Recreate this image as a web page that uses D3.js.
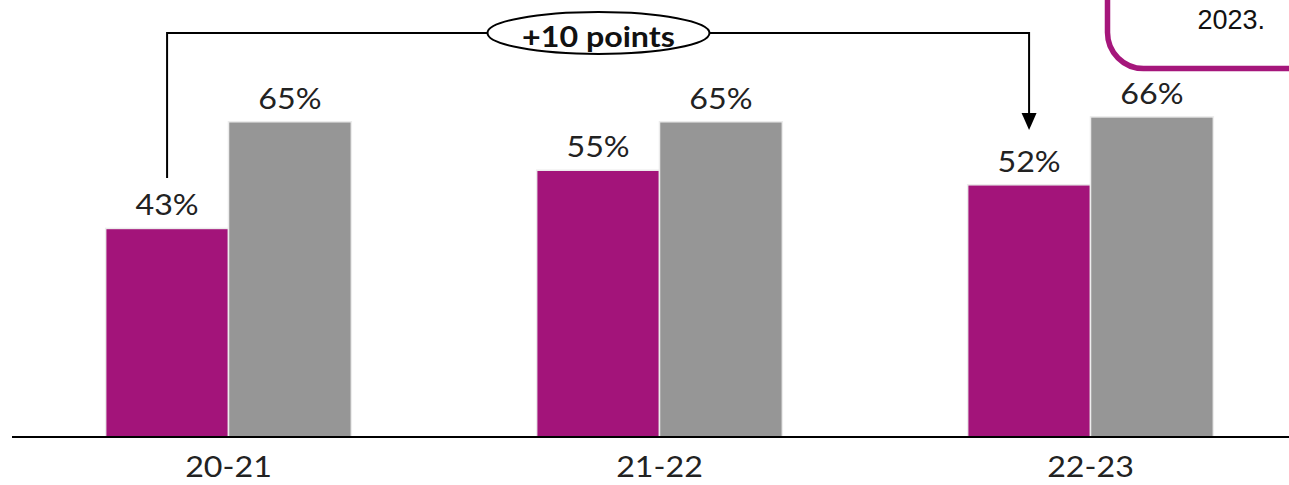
<!DOCTYPE html>
<html>
<head>
<meta charset="utf-8">
<script src="https://cdn.jsdelivr.net/npm/d3@7"></script>
<style>
  html, body { margin: 0; padding: 0; background: #fff; }
  svg { display: block; }
</style>
</head>
<body>
<svg id="chart" width="1289" height="485"></svg>
<script>
// School years and the two series shown side by side
const categories = ["20-21", "21-22", "22-23"];
const seriesA = [43, 55, 52];   // magenta bars
const seriesB = [65, 65, 66];   // grey bars
const seriesNames = ["A", "B"];
const changeLabel = "+10 points";
const noteText = "2023.";

const W = 1289, H = 485;
const baseY = 437;
const colors = { A: "#A3147A", B: "#969696" };
const labelFont = "Lato, 'Open Sans', sans-serif";
const stretch = "scale(1.15,1)";

const svg = d3.select("#chart");

const x = d3.scaleBand()
  .domain(categories)
  .range([13, 1306])
  .paddingInner(0.43)
  .paddingOuter(0.215);

const xs = d3.scaleBand()
  .domain(seriesNames)
  .range([0, x.bandwidth()]);

const y = d3.scaleLinear()
  .domain([0, 100])
  .range([baseY, baseY - 485]);

const rows = categories.map((c, i) => ({ cat: c, A: seriesA[i], B: seriesB[i] }));

// Bars
const groups = svg.append("g").selectAll("g")
  .data(rows)
  .join("g")
  .attr("transform", d => `translate(${x(d.cat)},0)`);

groups.selectAll("rect")
  .data(d => seriesNames.map(k => ({ key: k, value: d[k] })))
  .join("rect")
  .attr("x", d => xs(d.key))
  .attr("y", d => y(d.value))
  .attr("width", xs.bandwidth())
  .attr("height", d => baseY - y(d.value))
  .attr("fill", d => colors[d.key])
  .attr("stroke", "#ececec")
  .attr("stroke-width", 1.5);

// Value labels
groups.selectAll("text")
  .data(d => seriesNames.map(k => ({ key: k, value: d[k] })))
  .join("text")
  .attr("transform", d => `translate(${xs(d.key) + xs.bandwidth() / 2},${y(d.value) - 13}) ${stretch}`)
  .attr("text-anchor", "middle")
  .attr("font-family", labelFont)
  .attr("font-size", 28)
  .attr("fill", "#222")
  .text(d => d.value + "%");

// X axis
const xAxis = svg.append("g")
  .attr("transform", `translate(0,${baseY})`)
  .call(d3.axisBottom(x).tickSize(0));
xAxis.select(".domain").remove();
xAxis.append("line")
  .attr("x1", 12).attr("x2", W)
  .attr("stroke", "#000").attr("stroke-width", 2);
xAxis.selectAll(".tick text")
  .attr("y", 0)
  .attr("dy", null)
  .attr("transform", `translate(0,40) ${stretch}`)
  .attr("font-family", labelFont)
  .attr("font-size", 28)
  .attr("fill", "#222");

// Bracket connecting first and last magenta bar, with change label
const xStart = x(categories[0]) + xs("A") + xs.bandwidth() / 2;
const xEnd = x(categories[2]) + xs("A") + xs.bandwidth() / 2;
const bracketY = 33;
const startY = 178;
const tipY = 130;

svg.append("path")
  .attr("d", `M${xStart},${startY} V${bracketY} H${xEnd} V${tipY - 14}`)
  .attr("fill", "none")
  .attr("stroke", "#000")
  .attr("stroke-width", 2);

svg.append("path")
  .attr("d", `M${xEnd - 7.5},${tipY - 17} L${xEnd + 7.5},${tipY - 17} L${xEnd},${tipY} Z`)
  .attr("fill", "#000");

const ellCx = 598.5;
svg.append("ellipse")
  .attr("cx", ellCx).attr("cy", bracketY)
  .attr("rx", 111).attr("ry", 21)
  .attr("fill", "#fff")
  .attr("stroke", "#000")
  .attr("stroke-width", 2);

svg.append("text")
  .attr("transform", `translate(${ellCx},${bracketY + 14}) ${stretch}`)
  .attr("text-anchor", "middle")
  .attr("font-family", labelFont)
  .attr("font-weight", "bold")
  .attr("font-size", 28)
  .attr("fill", "#111")
  .text(changeLabel);

// Note box in the top-right corner
svg.append("rect")
  .attr("x", 1107.5).attr("y", -60)
  .attr("width", 240).attr("height", 128.5)
  .attr("rx", 36).attr("ry", 36)
  .attr("fill", "#fff")
  .attr("stroke", "#A5167B")
  .attr("stroke-width", 5.5);

svg.append("text")
  .attr("x", 1265).attr("y", 29)
  .attr("text-anchor", "end")
  .attr("font-family", "'Liberation Sans', Arial, sans-serif")
  .attr("font-size", 27)
  .attr("fill", "#111")
  .text(noteText);
</script>
</body>
</html>
